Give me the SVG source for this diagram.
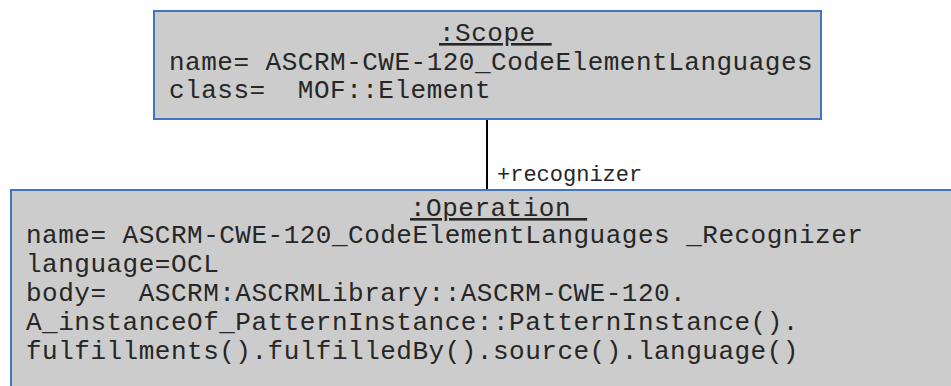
<svg xmlns="http://www.w3.org/2000/svg" width="951" height="386" viewBox="0 0 951 386">
  <style>
    .box { fill: #cccccc; stroke: #4472c4; stroke-width: 2; }
    .t { font-family: "Liberation Mono", "Courier New", monospace; font-size: 26px; letter-spacing: 0.5px; fill: #262626; white-space: pre; }
    .title { text-decoration: underline; }
    .lbl { font-family: "Liberation Mono", "Courier New", monospace; font-size: 22px; fill: #262626; }
    .conn { stroke: #000000; stroke-width: 2; fill: none; }
  </style>
  <rect width="951" height="386" fill="#ffffff"/>
  <g id="connectors">
    <line class="conn" x1="487" y1="120" x2="487" y2="190"/>
    <text class="lbl" x="497" y="181">+recognizer</text>
  </g>
  <g id="scope">
    <rect class="box" x="154" y="11" width="667" height="108"/>
    <text class="t title" x="439" y="41" xml:space="preserve">:Scope </text>
    <text class="t" x="169" y="70" xml:space="preserve">name= ASCRM-CWE-120_CodeElementLanguages</text>
    <text class="t" x="169" y="98" xml:space="preserve">class=  MOF::Element</text>
  </g>
  <g id="operation">
    <rect class="box" x="11" y="190" width="960" height="220"/>
    <text class="t title" x="410" y="216" xml:space="preserve">:Operation </text>
    <text class="t" x="26" y="243" xml:space="preserve">name= ASCRM-CWE-120_CodeElementLanguages _Recognizer</text>
    <text class="t" x="26" y="272" xml:space="preserve">language=OCL</text>
    <text class="t" x="26" y="301" xml:space="preserve">body=  ASCRM:ASCRMLibrary::ASCRM-CWE-120.</text>
    <text class="t" x="26" y="330" xml:space="preserve">A_instanceOf_PatternInstance::PatternInstance().</text>
    <text class="t" x="26" y="359" xml:space="preserve">fulfillments().fulfilledBy().source().language()</text>
  </g>
</svg>
